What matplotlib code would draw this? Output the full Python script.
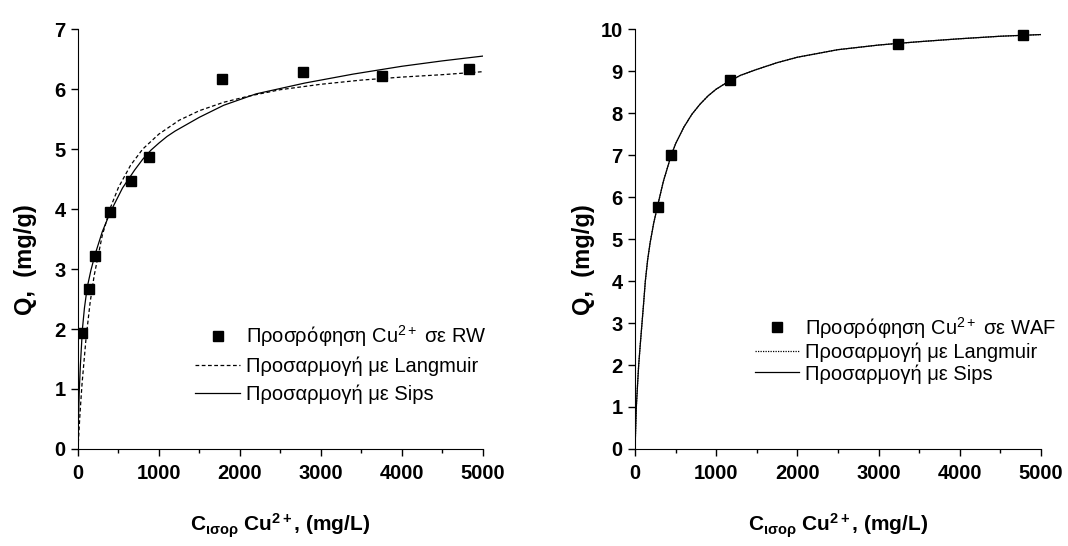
import matplotlib
matplotlib.use("Agg")
import matplotlib.pyplot as plt
from matplotlib import font_manager
from matplotlib.ticker import MultipleLocator

# narrow Arial-like face if present, otherwise the regular one
installed = {f.name for f in font_manager.fontManager.ttflist}
face = 'Liberation Sans Narrow' if 'Liberation Sans Narrow' in installed else 'Liberation Sans'
narrow = face == 'Liberation Sans Narrow'

plt.rcParams['font.family'] = [face, 'DejaVu Sans']
plt.rcParams['mathtext.fontset'] = 'custom'
plt.rcParams['mathtext.rm'] = face
plt.rcParams['mathtext.bf'] = face + ':bold'
plt.rcParams['mathtext.it'] = face + ':italic'

# --- left panel: RW ---
rw_c = [55, 132, 213, 400, 652, 882, 1785, 2781, 3757, 4826]
rw_q = [1.93, 2.67, 3.22, 3.95, 4.46, 4.86, 6.16, 6.29, 6.21, 6.34]

rw_lang_c = [0, 25, 50, 100, 150, 200, 300, 400, 500, 650, 800, 1000, 1250,
             1500, 1800, 2100, 2500, 3000, 3500, 4000, 4500, 5000]
rw_lang_q = [0, 0.59, 1.08, 1.85, 2.44, 2.89, 3.56, 4.02, 4.36, 4.73, 5.00,
             5.25, 5.48, 5.64, 5.78, 5.88, 5.99, 6.08, 6.15, 6.20, 6.24, 6.29]

rw_sips_c = [0, 5, 17, 30, 55, 80, 115, 160, 213, 300, 400, 550, 700, 800, 900,
             1000, 1100, 1200, 1500, 1800, 2200, 2800, 3400, 4000, 4500, 5000]
rw_sips_q = [0, 0.45, 1.0, 1.4, 2.0, 2.35, 2.7, 2.98, 3.25, 3.62, 3.95, 4.35,
             4.65, 4.83, 4.98, 5.10, 5.21, 5.30, 5.53, 5.73, 5.92, 6.10, 6.25,
             6.38, 6.47, 6.55]

# --- right panel: WAF ---
waf_c = [279, 443, 1172, 3242, 4775]
waf_q = [5.77, 7.00, 8.78, 9.65, 9.86]

# Langmuir and Sips fits overlap on this panel
waf_fit_c = [0, 8, 16, 30, 45, 65, 86, 105, 127, 155, 185, 230, 279, 350, 443,
             500, 600, 700, 800, 900, 1000, 1100, 1172, 1300, 1500, 1750, 2000,
             2500, 3000, 3242, 3500, 4000, 4500, 5000]
waf_fit_q = [0, 0.5, 1.0, 1.5, 2.0, 2.5, 3.0, 3.45, 4.0, 4.5, 4.9, 5.38, 5.8, 6.38, 6.98,
             7.27, 7.66, 7.97, 8.21, 8.41, 8.57, 8.69, 8.77, 8.90, 9.04, 9.20, 9.33,
             9.51, 9.62, 9.66, 9.70, 9.77, 9.83, 9.87]

tick_fs = 17 if narrow else 14.5
xlabel_fs = 17 if narrow else 15
ylabel_fs = 19 if narrow else 17
leg_fs = 17 if narrow else 14.5

fig = plt.figure(figsize=(10.68, 5.46), dpi=100)
ax1 = fig.add_axes([0.073, 0.1777, 0.379, 0.769])
ax2 = fig.add_axes([0.5946, 0.1777, 0.380, 0.769])

ax1.plot(rw_c, rw_q, 's', color='black', ms=7, label=r'Προσρόφηση Cu$^{\mathrm{2+}}$ σε RW')
ax1.plot(rw_lang_c, rw_lang_q, color='black', lw=0.9, ls=(0, (3, 2)), label='Προσαρμογή με Langmuir')
ax1.plot(rw_sips_c, rw_sips_q, color='black', lw=0.9, label='Προσαρμογή με Sips')

ax2.plot(waf_c, waf_q, 's', color='black', ms=7, label=r'Προσρόφηση Cu$^{\mathrm{2+}}$ σε WAF')
ax2.plot(waf_fit_c, waf_fit_q, color='black', lw=0.9, ls=(0, (1, 1)), label='Προσαρμογή με Langmuir')
ax2.plot(waf_fit_c, waf_fit_q, color='black', lw=0.9, label='Προσαρμογή με Sips')

for ax, ymax in [(ax1, 7), (ax2, 10)]:
    ax.set_xlim(0, 5000)
    ax.set_ylim(0, ymax)
    ax.spines['top'].set_visible(False)
    ax.spines['right'].set_visible(False)
    ax.xaxis.set_major_locator(MultipleLocator(1000))
    ax.xaxis.set_minor_locator(MultipleLocator(500))
    ax.yaxis.set_major_locator(MultipleLocator(1))
    ax.tick_params(which='major', direction='out', length=5, width=1, labelsize=tick_fs)
    ax.tick_params(axis='x', which='major', pad=6)
    ax.tick_params(axis='y', which='major', pad=4)
    ax.tick_params(axis='x', which='minor', direction='out', length=3, width=1)
    for lab in ax.get_xticklabels() + ax.get_yticklabels():
        lab.set_fontweight('bold')
    ax.set_xlabel(r'C$_{\mathbf{ισορ}}$ Cu$^{\mathbf{2+}}$, (mg/L)', fontsize=xlabel_fs, fontweight='bold')
    ax.set_ylabel('Q,  (mg/g)', fontsize=ylabel_fs, fontweight='bold')
    ax.xaxis.set_label_coords(0.5, -0.15)

ax1.yaxis.set_label_coords(-0.1, 0.45)
ax2.yaxis.set_label_coords(-0.098, 0.45)

ax1.legend(loc='upper left', bbox_to_anchor=(0.29, 0.30), frameon=False, fontsize=leg_fs,
           borderpad=0, borderaxespad=0, handlelength=2.2, handletextpad=0.3, labelspacing=0.4)
ax2.legend(loc='upper left', bbox_to_anchor=(0.295, 0.32), frameon=False, fontsize=leg_fs,
           borderpad=0, borderaxespad=0, handlelength=2.2, handletextpad=0.3, labelspacing=0.1)

fig.savefig('out.png', dpi=100)
